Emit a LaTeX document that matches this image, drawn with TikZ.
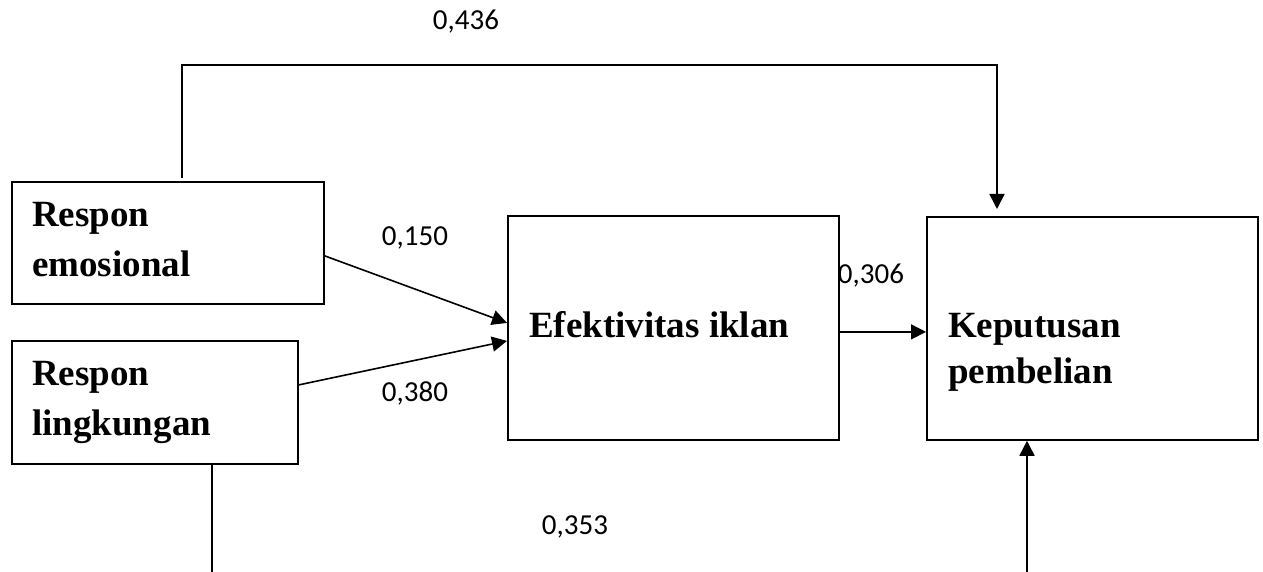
\documentclass[tikz,border=0pt]{standalone}
\usepackage{fontspec}
\setmainfont{Liberation Serif}
\newfontfamily\numfont{Carlito}
\usetikzlibrary{arrows.meta}

\begin{document}
\begin{tikzpicture}[x=1pt,y=-1pt,
  box/.style={draw,line width=1.8pt,anchor=north west,inner sep=0pt},
  boxtext/.style={anchor=base west,align=left,inner sep=0pt,font=\bfseries\fontsize{37}{#1}\selectfont},
  coef/.style={inner sep=0pt,font=\numfont\fontsize{29}{34}\selectfont},
  link/.style={line width=1.6pt,-{Triangle[length=15pt,width=15pt]}},
  plain/.style={line width=1.6pt}]
  \useasboundingbox (0,0) rectangle (1263,572);

  % variables
  \node[box,minimum width=312pt,minimum height=122pt] (emo) at (11,181) {};
  \node[box,minimum width=286pt,minimum height=123pt] (ling) at (11,340) {};
  \node[box,minimum width=331pt,minimum height=224pt] (efek) at (507,215) {};
  \node[box,minimum width=331pt,minimum height=223pt] (kep) at (926,216) {};

  % base anchor sits on the last line
  \node[boxtext=50pt] (emotxt) at (32,276) {Respon\\emosional};
  \node[boxtext=50pt] (lingtxt) at (32,435) {Respon\\lingkungan};
  \node[boxtext=46pt] (efektxt) at (529,337) {Efektivitas iklan};
  \node[boxtext=46pt] (keptxt) at (948,383) {Keputusan\\pembelian};

  % paths
  \draw[link] ([yshift=-13pt]emo.east) -- ([yshift=5pt]efek.west);
  \draw[link] ([yshift=17.5pt]ling.east) -- ([yshift=-13pt]efek.west);
  \draw[link] ([yshift=-4pt]efek.east) -- ([yshift=-3.5pt]kep.west);

  \coordinate (up) at (182,65);
  \draw[link] ([shift={(171pt,3pt)}]emo.north west) -- (up)
    -| ([shift={(71pt,7pt)}]kep.north west);

  \coordinate (lb) at (212,572);
  \coordinate (rb) at (1027,572);
  \draw[plain] ([xshift=201pt]ling.south west) -- (lb);
  \draw[link] (rb) -- ([xshift=101pt]kep.south west);

  % coefficients
  \node[coef] (c436) at (466,22) {0,436};
  \node[coef] (c150) at (415,238) {0,150};
  \node[coef] (c380) at (415,393) {0,380};
  \node[coef] (c306) at (871,276) {0,306};
  \node[coef] (c353) at (575,527) {0,353};
\end{tikzpicture}
\end{document}
